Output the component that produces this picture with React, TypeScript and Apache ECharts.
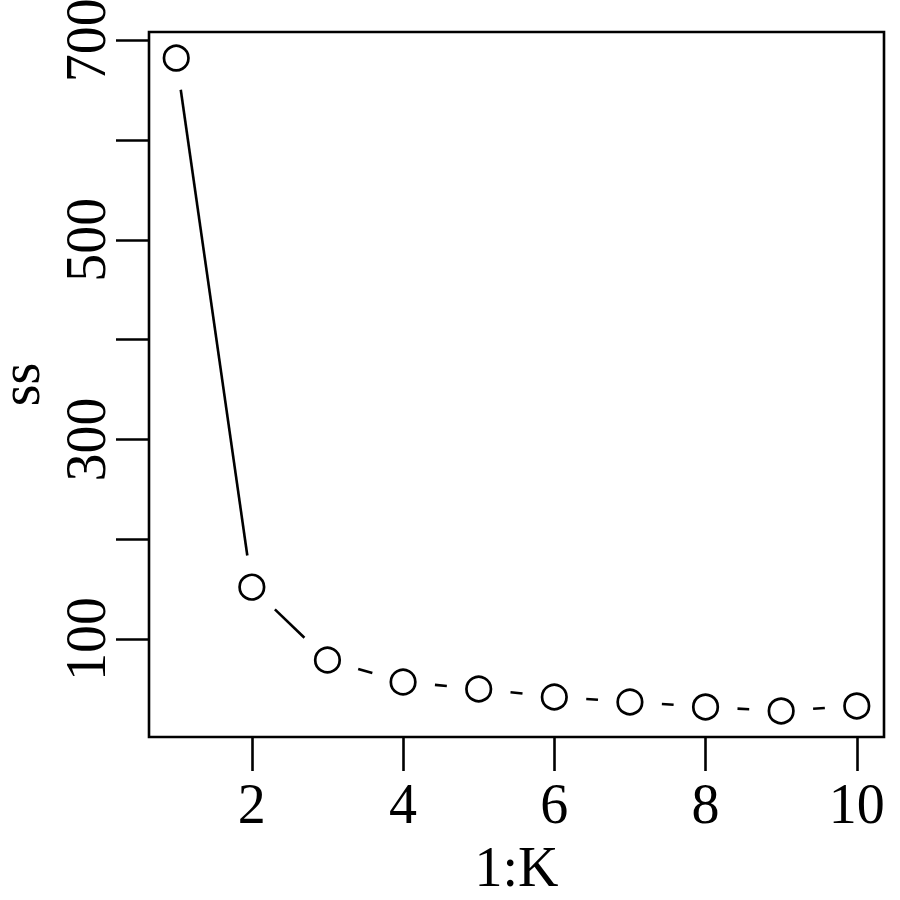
import React, { useEffect, useRef } from "react";
import * as echarts from "echarts";

// Data (elbow plot: within-cluster SS vs K)
const K = [1, 2, 3, 4, 5, 6, 7, 8, 9, 10];
const ss = [682, 152, 79, 57, 50, 42, 37, 32, 28, 33];
const xTickValues = [2, 4, 6, 8, 10];
const yTickValues = [100, 200, 300, 400, 500, 600, 700];
const yLabelValues = [100, 300, 500, 700];

// R-style 4% range extension
function extendRange(vals: number[]): [number, number] {
  const lo = Math.min(...vals);
  const hi = Math.max(...vals);
  const d = (hi - lo) * 0.04;
  return [lo - d, hi + d];
}

const FONT = "Liberation Serif";
const LW = 2.6;

export default function App() {
  const ref = useRef<HTMLDivElement>(null);

  useEffect(() => {
    document.body.style.margin = "0";
    const chart = echarts.init(ref.current!, null, { renderer: "svg" });
    const [xmin, xmax] = extendRange(K);
    const [ymin, ymax] = extendRange(ss);
    const pts = K.map((k, i) => [k, ss[i]]);
    const segs = K.slice(0, -1).map((k, i) => [k, ss[i], K[i + 1], ss[i + 1]]);
    const GAP = 32;

    chart.setOption({
      animation: false,
      backgroundColor: "#fff",
      grid: {
        left: 149,
        top: 32,
        width: 735,
        height: 705,
        show: true,
        borderColor: "#000",
        borderWidth: LW,
        backgroundColor: "transparent",
        containLabel: false,
        outerBoundsMode: "none",
      },
      xAxis: {
        type: "value",
        min: xmin,
        max: xmax,
        name: "1:K",
        nameLocation: "middle",
        nameGap: 102,
        nameMoveOverlap: false,
        nameTextStyle: { fontFamily: FONT, fontSize: 56, color: "#000" },
        axisLine: { show: false },
        splitLine: { show: false },
        axisTick: {
          show: true,
          length: 34,
          customValues: xTickValues,
          lineStyle: { color: "#000", width: LW },
        },
        axisLabel: {
          customValues: xTickValues,
          margin: 39,
          fontFamily: FONT,
          fontSize: 56,
          color: "#000",
          showMinLabel: true,
          showMaxLabel: true,
          hideOverlap: false,
        },
      },
      yAxis: {
        type: "value",
        min: ymin,
        max: ymax,
        name: "ss",
        nameLocation: "middle",
        nameGap: 101,
        nameMoveOverlap: false,
        nameTextStyle: { fontFamily: FONT, fontSize: 56, color: "#000" },
        axisLine: { show: false },
        splitLine: { show: false },
        axisTick: {
          show: true,
          length: 33,
          customValues: yTickValues,
          lineStyle: { color: "#000", width: LW },
        },
        axisLabel: {
          customValues: yLabelValues,
          rotate: 90,
          margin: 35,
          fontFamily: FONT,
          fontSize: 56,
          color: "#000",
          hideOverlap: false,
        },
      },
      series: [
        {
          type: "custom",
          data: segs,
          encode: { x: [0, 2], y: [1, 3] },
          silent: true,
          renderItem: (params: any, api: any) => {
            const p0 = api.coord([api.value(0), api.value(1)]);
            const p1 = api.coord([api.value(2), api.value(3)]);
            const dx = p1[0] - p0[0];
            const dy = p1[1] - p0[1];
            const d = Math.hypot(dx, dy);
            if (d <= 2 * GAP) return null;
            const ux = dx / d;
            const uy = dy / d;
            return {
              type: "line",
              shape: {
                x1: p0[0] + ux * GAP,
                y1: p0[1] + uy * GAP,
                x2: p1[0] - ux * GAP,
                y2: p1[1] - uy * GAP,
              },
              style: { stroke: "#000", lineWidth: LW, lineCap: "butt" },
            };
          },
        },
        {
          type: "scatter",
          data: pts,
          symbol: "circle",
          symbolSize: 24.5,
          silent: true,
          itemStyle: { color: "transparent", borderColor: "#000", borderWidth: 2.7, opacity: 1 },
        },
      ],
    });
    return () => chart.dispose();
  }, []);

  return (
    <div
      ref={ref}
      style={{ position: "fixed", left: 0, top: 0, width: 900, height: 900, background: "#fff" }}
    />
  );
}
